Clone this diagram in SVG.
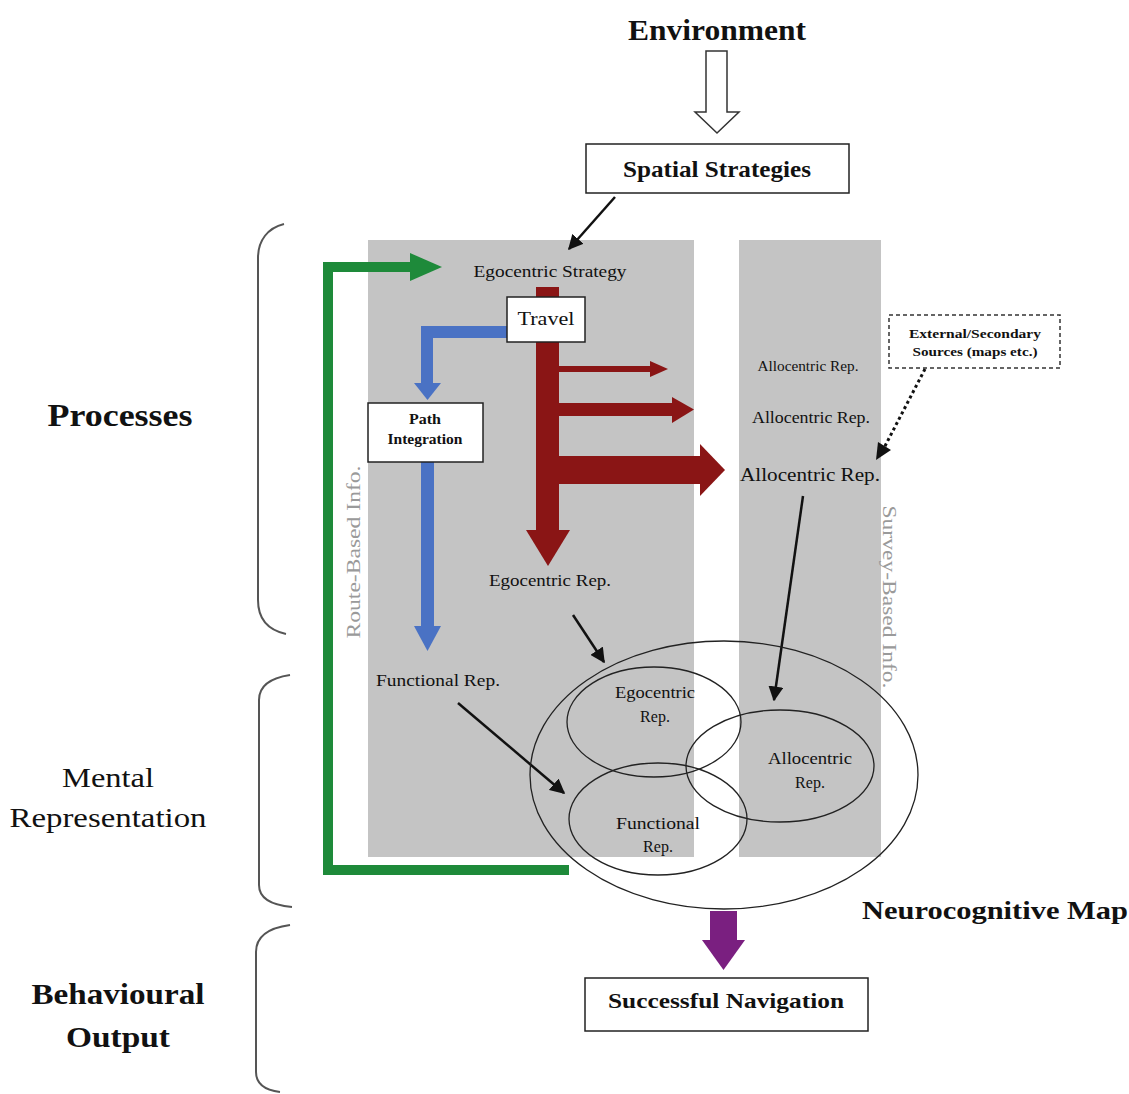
<svg xmlns="http://www.w3.org/2000/svg" width="1129" height="1094" viewBox="0 0 1129 1094">
<style>
text{font-family:"Liberation Serif","Times New Roman",serif;fill:#111;text-anchor:middle}
.b{font-weight:bold}
.box{fill:#fff;stroke:#222;stroke-width:1.5}
.col{fill:#c4c4c4}
.brace{fill:none;stroke:#555;stroke-width:2}
.ell{fill:none;stroke:#222;stroke-width:1.3}
.side{fill:#9a9a9a;font-size:18px}
.blk{stroke:#111;stroke-width:2.5;fill:none}
</style>
<defs>
<marker id="ah" viewBox="0 0 10 10" refX="9" refY="5" markerWidth="6" markerHeight="6" orient="auto" markerUnits="strokeWidth">
<path d="M0,0 L10,5 L0,10 z" fill="#111"/>
</marker>
</defs>

<g id="columns">
<rect class="col" x="368" y="240" width="326" height="617"/>
<rect class="col" x="739" y="240" width="142" height="617"/>
</g>

<g id="braces">
<path class="brace" d="M284,224 C268,228 258,240 258,258 L258,600 C258,620 268,630 286,634"/>
<path class="brace" d="M290,675 C270,678 259,686 259,700 L259,885 C259,898 270,905 292,907"/>
<path class="brace" d="M290,925 C268,928 256,936 256,952 L256,1072 C256,1084 264,1090 280,1092"/>
</g>

<g id="labels">
<text class="b" x="120" y="426" font-size="32" textLength="145" lengthAdjust="spacingAndGlyphs">Processes</text>
<text x="108" y="787" font-size="28" textLength="92" lengthAdjust="spacingAndGlyphs">Mental</text>
<text x="108" y="827" font-size="28" textLength="197" lengthAdjust="spacingAndGlyphs">Representation</text>
<text class="b" x="118" y="1004" font-size="29" textLength="173" lengthAdjust="spacingAndGlyphs">Behavioural</text>
<text class="b" x="118" y="1047" font-size="29" textLength="104" lengthAdjust="spacingAndGlyphs">Output</text>
<text class="side" transform="translate(360,552) rotate(-90)" textLength="173" lengthAdjust="spacingAndGlyphs">Route-Based Info.</text>
<text class="side" transform="translate(883,597) rotate(90)" textLength="183" lengthAdjust="spacingAndGlyphs">Survey-Based Info.</text>
</g>

<g id="connectors">
<path d="M706,51 L727,51 L727,112 L739,112 L717,133 L695,112 L706,112 Z" fill="#fff" stroke="#333" stroke-width="1.5"/>
<line class="blk" x1="615" y1="197" x2="569" y2="249" marker-end="url(#ah)"/>
<path d="M569,870 L328,870 L328,267 L412,267" fill="none" stroke="#1e8a3a" stroke-width="10"/>
<path d="M410,253 L442,267 L410,281 Z" fill="#1e8a3a"/>
<rect x="536" y="287" width="23" height="245" fill="#8a1515"/>
<path d="M526,530 L570,530 L548,566 Z" fill="#8a1515"/>
<rect x="559" y="366" width="92" height="6" fill="#8a1515"/>
<path d="M650,361 L668,369 L650,377 Z" fill="#8a1515"/>
<rect x="559" y="403" width="114" height="13" fill="#8a1515"/>
<path d="M672,397 L694,409.5 L672,423 Z" fill="#8a1515"/>
<rect x="559" y="456" width="143" height="28" fill="#8a1515"/>
<path d="M700,444 L725,470 L700,496 Z" fill="#8a1515"/>
<path d="M507,332 L427,332 L427,385" fill="none" stroke="#4a72c4" stroke-width="12"/>
<path d="M414,383 L441,383 L427.5,400 Z" fill="#4a72c4"/>
<rect x="421" y="462" width="13" height="166" fill="#4a72c4"/>
<path d="M414,626 L441,626 L427.5,651 Z" fill="#4a72c4"/>
<line x1="925" y1="369" x2="884" y2="448" stroke="#111" stroke-width="3" stroke-dasharray="3,3"/>
<path d="M876,460 L878,442 L891,450 Z" fill="#111"/>
<line class="blk" x1="803" y1="496" x2="774" y2="700" marker-end="url(#ah)"/>
<line class="blk" x1="573" y1="615" x2="604" y2="662" marker-end="url(#ah)"/>
<line class="blk" x1="458" y1="703" x2="564" y2="793" marker-end="url(#ah)"/>
<rect x="710" y="911" width="27" height="30" fill="#7a1f80"/>
<path d="M702,940 L745,940 L723.5,970 Z" fill="#7a1f80"/>
</g>

<g id="environment">
<text class="b" x="717" y="40" font-size="30" textLength="178" lengthAdjust="spacingAndGlyphs">Environment</text>
</g>

<g id="spatial-strategies">
<rect class="box" x="586" y="144" width="263" height="49"/>
<text class="b" x="717" y="177" font-size="24" textLength="188" lengthAdjust="spacingAndGlyphs">Spatial Strategies</text>
</g>

<g id="egocentric-strategy">
<text x="550" y="277" font-size="17" textLength="153" lengthAdjust="spacingAndGlyphs">Egocentric Strategy</text>
</g>

<g id="travel">
<rect class="box" x="507" y="297" width="78" height="45"/>
<text x="546" y="325" font-size="19" textLength="57" lengthAdjust="spacingAndGlyphs">Travel</text>
</g>

<g id="path-integration">
<rect class="box" x="368" y="403" width="115" height="59"/>
<text class="b" x="425" y="424" font-size="14" textLength="32" lengthAdjust="spacingAndGlyphs">Path</text>
<text class="b" x="425" y="444" font-size="14" textLength="75" lengthAdjust="spacingAndGlyphs">Integration</text>
</g>

<g id="allocentric-reps">
<text x="808" y="371" font-size="14" textLength="101" lengthAdjust="spacingAndGlyphs">Allocentric Rep.</text>
<text x="811" y="423" font-size="16" textLength="118" lengthAdjust="spacingAndGlyphs">Allocentric Rep.</text>
<text x="810" y="481" font-size="19" textLength="140" lengthAdjust="spacingAndGlyphs">Allocentric Rep.</text>
</g>

<g id="external-sources">
<rect x="889" y="315" width="171" height="53" fill="#fff" stroke="#333" stroke-width="1.5" stroke-dasharray="4,3"/>
<text class="b" x="975" y="338" font-size="13" textLength="132" lengthAdjust="spacingAndGlyphs">External/Secondary</text>
<text class="b" x="975" y="356" font-size="13" textLength="125" lengthAdjust="spacingAndGlyphs">Sources (maps etc.)</text>
</g>

<g id="egocentric-rep">
<text x="550" y="586" font-size="17" textLength="122" lengthAdjust="spacingAndGlyphs">Egocentric Rep.</text>
</g>

<g id="functional-rep">
<text x="438" y="686" font-size="17" textLength="124" lengthAdjust="spacingAndGlyphs">Functional Rep.</text>
</g>

<g id="neurocognitive-map">
<ellipse class="ell" cx="724" cy="775" rx="194" ry="134"/>
<ellipse class="ell" cx="654" cy="722" rx="87" ry="55"/>
<ellipse class="ell" cx="780" cy="766" rx="94" ry="56"/>
<ellipse class="ell" cx="658" cy="819" rx="89" ry="56"/>
<text x="655" y="698" font-size="16" textLength="80" lengthAdjust="spacingAndGlyphs">Egocentric</text>
<text x="655" y="722" font-size="16">Rep.</text>
<text x="810" y="764" font-size="16" textLength="84" lengthAdjust="spacingAndGlyphs">Allocentric</text>
<text x="810" y="788" font-size="16">Rep.</text>
<text x="658" y="829" font-size="16" textLength="84" lengthAdjust="spacingAndGlyphs">Functional</text>
<text x="658" y="852" font-size="16">Rep.</text>
<text class="b" x="995" y="919" font-size="26" textLength="266" lengthAdjust="spacingAndGlyphs">Neurocognitive Map</text>
</g>

<g id="successful-navigation">
<rect class="box" x="585" y="978" width="283" height="53"/>
<text class="b" x="726" y="1008" font-size="22" textLength="236" lengthAdjust="spacingAndGlyphs">Successful Navigation</text>
</g>
</svg>
